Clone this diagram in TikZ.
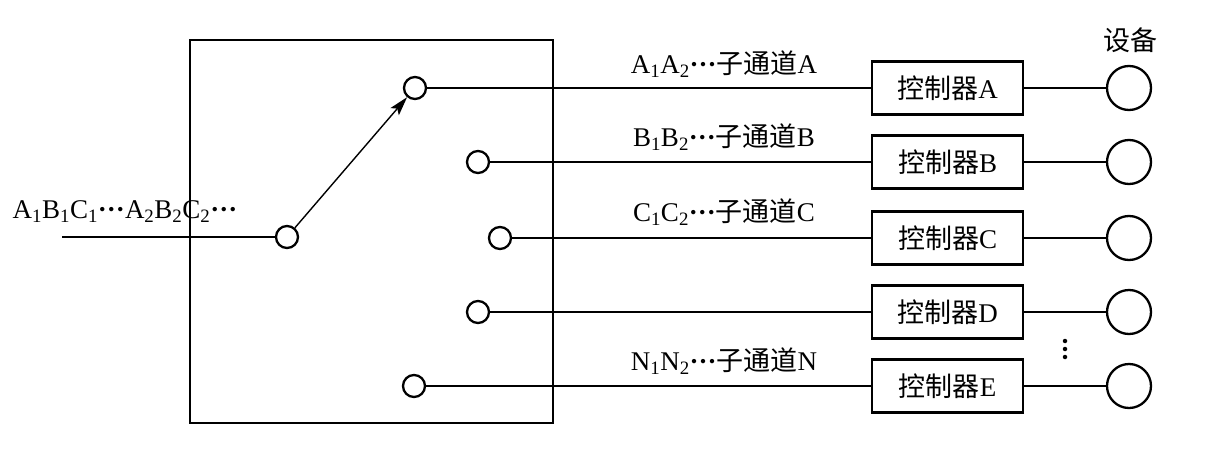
\documentclass[tikz,border=0pt]{standalone}
\usepackage{fontspec}
\setmainfont{Liberation Serif}
\newfontfamily\cjk{Noto Sans CJK SC}
\newcommand{\mydots}{\textbf{\char"00B7\char"00B7\char"00B7}}
\usetikzlibrary{arrows.meta}
\begin{document}
\begin{tikzpicture}[x=1pt,y=-1pt,
  lbl/.style={font=\fontsize{27}{31}\selectfont, inner sep=0pt},
  ctrl/.style={draw, line width=2.3pt, minimum width=151pt, minimum height=53pt, inner sep=0pt, font=\fontsize{27}{31}\selectfont},
  port/.style={circle, draw, line width=2.3pt, minimum size=22pt, inner sep=0pt},
  dev/.style={circle, draw, line width=2.3pt, minimum size=44pt, inner sep=0pt},
  dot/.style={circle, fill, minimum size=4.5pt, inner sep=0pt},
  wire/.style={line width=1.8pt}]
\useasboundingbox (0,0) rectangle (1228,460);
% switch box
\node[draw, line width=2.4pt, minimum width=363pt, minimum height=383pt, inner sep=0pt] (sw) at (371.5,231.5) {};
% ports
\coordinate (src) at (62,237);
\node[port] (pin) at (287,237) {};
\node[port] (pA) at (415,88) {};
\node[port] (pB) at (478,162) {};
\node[port] (pC) at (500,238) {};
\node[port] (pD) at (478,312) {};
\node[port] (pE) at (414,386) {};
% controllers
\node[ctrl] (cA) at (947.5,88) {{\cjk 控制器}A};
\node[ctrl] (cB) at (947.5,162) {{\cjk 控制器}B};
\node[ctrl] (cC) at (947.5,238) {{\cjk 控制器}C};
\node[ctrl] (cD) at (947.5,312) {{\cjk 控制器}D};
\node[ctrl] (cE) at (947.5,386) {{\cjk 控制器}E};
% devices
\node[dev] (dA) at (1129,88) {};
\node[dev] (dB) at (1129,162) {};
\node[dev] (dC) at (1129,238) {};
\node[dev] (dD) at (1129,312) {};
\node[dev] (dE) at (1129,386) {};
% labels
\node[lbl] (tin) at (125,212) {A\textsubscript{1}B\textsubscript{1}C\textsubscript{1}\mydots A\textsubscript{2}B\textsubscript{2}C\textsubscript{2}\mydots};
\node[lbl] (tA) at (724,64) {A\textsubscript{1}A\textsubscript{2}\mydots{\cjk 子通道}A};
\node[lbl] (tB) at (724,137) {B\textsubscript{1}B\textsubscript{2}\mydots{\cjk 子通道}B};
\node[lbl] (tC) at (724,212) {C\textsubscript{1}C\textsubscript{2}\mydots{\cjk 子通道}C};
\node[lbl] (tN) at (724,361) {N\textsubscript{1}N\textsubscript{2}\mydots{\cjk 子通道}N};
\node[lbl] (tdev) at (1130,40) {\cjk 设备};
% vertical ellipsis
\node[dot] (v1) at (1065,341) {};
\node[dot] (v2) at (1065,349) {};
\node[dot] (v3) at (1065,357) {};
% wires
\draw[wire] (src) -- (pin);
\draw[line width=1.4pt, -{Stealth[length=19pt,width=11pt,inset=4pt]}] (pin) -- (pA);
\foreach \p/\c/\d in {pA/cA/dA, pB/cB/dB, pC/cC/dC, pD/cD/dD, pE/cE/dE}{
  \draw[wire] (\p) -- (\c);
  \draw[wire] (\c) -- (\d);
}
\end{tikzpicture}
\end{document}
